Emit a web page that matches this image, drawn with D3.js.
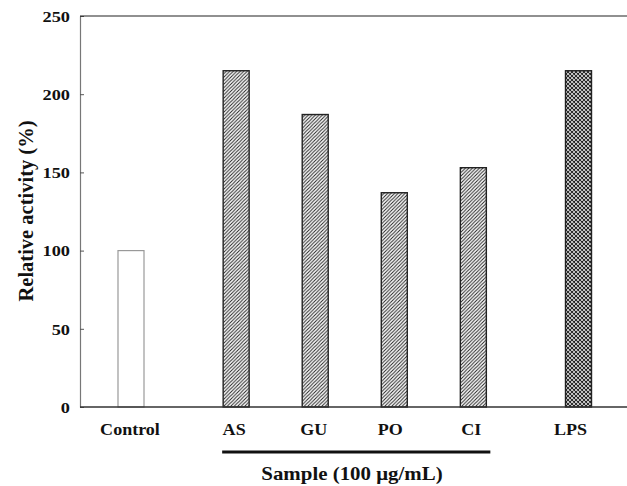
<!DOCTYPE html>
<html>
<head>
<meta charset="utf-8">
<script src="https://cdn.jsdelivr.net/npm/d3@7"></script>
<style>
  html, body { margin: 0; padding: 0; background: #fff; }
  svg { display: block; }
  text { font-family: "Liberation Serif", "Times New Roman", serif; font-weight: bold; fill: #111; }
</style>
</head>
<body>
<svg id="chart" width="627" height="486"></svg>
<script>
// Data
const categories = ["Control", "AS", "GU", "PO", "CI", "LPS"];
const values = [100, 215, 187, 137, 153, 215];
const slots = [0, 1.33, 2.33, 3.33, 4.33, 5.66];   // grouped category positions
const kinds = ["open", "hatch", "hatch", "hatch", "hatch", "cross"];
const yTicks = [0, 50, 100, 150, 200, 250];
const yTitle = "Relative activity (%)";
const groupTitle = "Sample (100 μg/mL)";
const groupMembers = ["AS", "CI"];

const svg = d3.select("#chart");
const margin = { left: 80, top: 16, right: 0, bottom: 79 };
const W = 627, H = 486;
const plotBottom = H - margin.bottom; // 407

const x = d3.scaleLinear().domain([0, 5.66]).range([131, 578.5]);
const y = d3.scaleLinear().domain([0, 250]).range([plotBottom, margin.top]);
const barW = 26;

function stretch(sel, f) {
  sel.each(function () {
    const w = this.getComputedTextLength();
    d3.select(this).attr("textLength", w * f).attr("lengthAdjust", "spacingAndGlyphs");
  });
}

// patterns
const defs = svg.append("defs");
const ph = defs.append("pattern").attr("id", "hatch").attr("patternUnits", "userSpaceOnUse")
  .attr("width", 3.5).attr("height", 3.5);
ph.append("rect").attr("width", 3.5).attr("height", 3.5).attr("fill", "#fff");
ph.append("path").attr("d", "M-1,4.5 L4.5,-1 M-1,1 L1,-1 M2.5,4.5 L4.5,2.5")
  .attr("stroke", "#222").attr("stroke-width", 1);

const pc = defs.append("pattern").attr("id", "cross").attr("patternUnits", "userSpaceOnUse")
  .attr("width", 4).attr("height", 4);
pc.append("rect").attr("width", 4).attr("height", 4).attr("fill", "#fff");
pc.append("path").attr("d", "M-1,5 L5,-1 M-1,1 L1,-1 M3,5 L5,3 M-1,-1 L5,5 M-1,3 L1,5 M3,-1 L5,1")
  .attr("stroke", "#222").attr("stroke-width", 1.1);

// bars
const data = categories.map((c, i) => ({ c, v: values[i], s: slots[i], k: kinds[i] }));
svg.append("g").selectAll("rect").data(data).join("rect")
  .attr("x", d => x(d.s) - barW / 2)
  .attr("y", d => y(d.v))
  .attr("width", barW)
  .attr("height", d => y(0) - y(d.v))
  .attr("fill", d => d.k === "open" ? "#fff" : `url(#${d.k})`)
  .attr("stroke", d => d.k === "open" ? "#999" : "#222")
  .attr("stroke-width", d => d.k === "open" ? 1.2 : 1.4);

// y axis
const yAxis = d3.axisLeft(y).tickValues(yTicks).tickSize(-4).tickPadding(10).tickSizeOuter(0);
const gy = svg.append("g").attr("transform", `translate(${margin.left},0)`).call(yAxis);
gy.select(".domain").attr("stroke", "#777").attr("stroke-width", 1.2);
gy.selectAll(".tick line").attr("stroke", "#555");
gy.selectAll(".tick text").attr("font-size", 15).attr("font-family", "Liberation Serif")
  .attr("font-weight", "bold").attr("fill", "#111").attr("dy", "0.35em");
stretch(gy.selectAll(".tick text"), 1.22);

// x axis (baseline)
svg.append("line").attr("x1", margin.left).attr("x2", W).attr("y1", y(0)).attr("y2", y(0))
  .attr("stroke", "#333").attr("stroke-width", 1.4);
// top frame line
svg.append("line").attr("x1", margin.left).attr("x2", W).attr("y1", y(250)).attr("y2", y(250))
  .attr("stroke", "#222").attr("stroke-width", 1.2);

// x labels
const labelShift = { Control: -1, AS: -2, GU: -1.5, PO: -4, CI: -2, LPS: -8 };
const xl = svg.append("g").selectAll("text").data(data).join("text")
  .attr("x", d => x(d.s) + (labelShift[d.c] || 0))
  .attr("y", 435)
  .attr("text-anchor", "middle")
  .attr("font-size", 17)
  .text(d => d.c);
stretch(xl, 1.06);

// y title
svg.append("text")
  .attr("transform", `translate(33,211) rotate(-90)`)
  .attr("text-anchor", "middle")
  .attr("font-size", 20.5)
  .text(yTitle);

// group bar
const gi0 = categories.indexOf(groupMembers[0]), gi1 = categories.indexOf(groupMembers[1]);
svg.append("line")
  .attr("x1", x(slots[gi0]) - 14).attr("x2", x(slots[gi1]) + 17)
  .attr("y1", 452).attr("y2", 452)
  .attr("stroke", "#111").attr("stroke-width", 3);
const st = svg.append("text")
  .attr("x", 352)
  .attr("y", 480)
  .attr("text-anchor", "middle")
  .attr("font-size", 19)
  .text(groupTitle);
stretch(st, 1.1);
</script>
</body>
</html>
